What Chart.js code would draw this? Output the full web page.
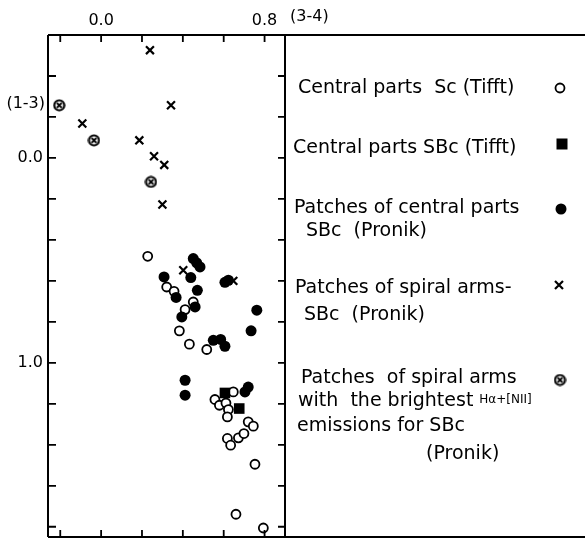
<!DOCTYPE html>
<html>
<head>
<meta charset="utf-8">
<title>Colour-colour diagram</title>
<script src="https://cdn.jsdelivr.net/npm/chart.js@4.4.0/dist/chart.umd.min.js"></script>
<style>
  html, body { margin: 0; padding: 0; background: #fff; }
  #wrap { width: 585px; height: 540px; }
</style>
</head>
<body>
<div id="wrap"><canvas id="chart" width="585" height="540" style="width:585px;height:540px"></canvas></div>
<script>
// Axis ticks
const xTickValues = [-0.2, 0.0, 0.2, 0.4, 0.6, 0.8];
const xTickLabels = ['', '0.0', '', '', '', '0.8'];
const yTickValues = [-0.4, -0.2, 0.0, 0.2, 0.4, 0.6, 0.8, 1.0, 1.2, 1.4, 1.6, 1.8];
const yTickLabels = ['', '', '0.0', '', '', '', '', '1.0', '', '', '', ''];

// Central parts Sc (Tifft) - open circles
const scTifftX = [0.228, 0.321, 0.357, 0.451, 0.411, 0.383, 0.432, 0.517, 0.647, 0.557, 0.579, 0.611,
  0.623, 0.618, 0.720, 0.745, 0.618, 0.634, 0.672, 0.699, 0.753, 0.660, 0.794];
const scTifftY = [0.480, 0.630, 0.651, 0.703, 0.740, 0.844, 0.909, 0.935, 1.142, 1.179, 1.207, 1.196,
  1.228, 1.264, 1.288, 1.309, 1.369, 1.402, 1.366, 1.345, 1.495, 1.739, 1.806];

// Central parts SBc (Tifft) - filled squares
const sbcTifftX = [0.606, 0.676];
const sbcTifftY = [1.147, 1.223];

// Patches of central parts SBc (Pronik) - filled circles
const centralPronikX = [0.451, 0.468, 0.484, 0.439, 0.308, 0.367, 0.471, 0.606, 0.623, 0.460,
  0.395, 0.762, 0.734, 0.549, 0.585, 0.606, 0.411, 0.411, 0.720, 0.704];
const centralPronikY = [0.491, 0.512, 0.532, 0.584, 0.581, 0.681, 0.646, 0.607, 0.597, 0.727,
  0.776, 0.743, 0.844, 0.890, 0.886, 0.919, 1.085, 1.158, 1.118, 1.142];

// Patches of spiral arms SBc (Pronik) - crosses
const armsPronikX = [0.239, 0.342, -0.092, 0.187, 0.259, 0.309, 0.300, 0.402, 0.647];
const armsPronikY = [-0.526, -0.257, -0.168, -0.086, -0.008, 0.034, 0.227, 0.548, 0.600];

// Brightest H-alpha + [NII] patches (Pronik) - circled crosses
const brightPronikX = [-0.205, -0.035, 0.244];
const brightPronikY = [-0.257, -0.086, 0.117];

const ink = '#000';
const font = '"DejaVu Sans", sans-serif';

function pairs(xs, ys) {
  return xs.map((x, i) => ({ x: x, y: ys[i] }));
}

// circle with a cross inside, used as an image point style
function makeCircledCross() {
  const c = document.createElement('canvas');
  c.width = 13; c.height = 13;
  const g = c.getContext('2d');
  g.strokeStyle = '#000';
  g.lineWidth = 2.2;
  g.beginPath();
  g.arc(6.5, 6.5, 5, 0, Math.PI * 2);
  g.stroke();
  g.lineWidth = 1.8;
  g.beginPath();
  g.moveTo(4, 4); g.lineTo(9, 9);
  g.moveTo(9, 4); g.lineTo(4, 9);
  g.stroke();
  return c;
}
const circledCross = makeCircledCross();

// Legend on the right-hand panel
const legendItems = [
  { lines: [['Central parts  Sc (Tifft)', 298, 88]], marker: 'open', mx: 560, my: 88 },
  { lines: [['Central parts SBc (Tifft)', 293, 148]], marker: 'square', mx: 562, my: 144 },
  { lines: [['Patches of central parts', 294, 208], ['SBc  (Pronik)', 306, 231]], marker: 'filled', mx: 561, my: 209 },
  { lines: [['Patches of spiral arms-', 295, 288], ['SBc  (Pronik)', 304, 315]], marker: 'cross', mx: 559, my: 285 },
  { lines: [['Patches  of spiral arms', 301, 378], ['with  the brightest', 298, 401],
            ['emissions for SBc', 297, 426], ['(Pronik)', 426, 454]], marker: 'bright', mx: 560, my: 380 }
];

function drawMarker(ctx, type, x, y) {
  ctx.save();
  ctx.strokeStyle = ink;
  ctx.fillStyle = ink;
  if (type === 'open') {
    ctx.lineWidth = 1.8;
    ctx.beginPath(); ctx.arc(x, y, 4.5, 0, Math.PI * 2); ctx.stroke();
  } else if (type === 'filled') {
    ctx.beginPath(); ctx.arc(x, y, 5.5, 0, Math.PI * 2); ctx.fill();
  } else if (type === 'square') {
    ctx.fillRect(x - 5.5, y - 5.5, 11, 11);
  } else if (type === 'cross') {
    ctx.lineWidth = 2.2;
    ctx.beginPath();
    ctx.moveTo(x - 4, y - 4); ctx.lineTo(x + 4, y + 4);
    ctx.moveTo(x + 4, y - 4); ctx.lineTo(x - 4, y + 4);
    ctx.stroke();
  } else if (type === 'bright') {
    ctx.drawImage(circledCross, x - 6.5, y - 6.5);
  }
  ctx.restore();
}

const framePlugin = {
  id: 'frame',
  afterDraw(chart) {
    const { ctx, chartArea: a } = chart;
    const xs = chart.scales.x;
    const ys = chart.scales.y;
    ctx.save();
    ctx.strokeStyle = ink;
    ctx.lineWidth = 2;
    ctx.beginPath();
    ctx.moveTo(a.left, a.top); ctx.lineTo(chart.width, a.top);
    ctx.moveTo(a.left, a.bottom); ctx.lineTo(chart.width, a.bottom);
    ctx.moveTo(a.left, a.top); ctx.lineTo(a.left, a.bottom);
    ctx.moveTo(a.right, a.top); ctx.lineTo(a.right, a.bottom);
    ctx.stroke();

    // ticks pointing inwards on all four sides
    ctx.lineWidth = 1.8;
    ctx.beginPath();
    xTickValues.forEach(v => {
      const px = xs.getPixelForValue(v);
      ctx.moveTo(px, a.top); ctx.lineTo(px, a.top + 7);
      ctx.moveTo(px, a.bottom); ctx.lineTo(px, a.bottom - 7);
    });
    yTickValues.forEach(v => {
      const py = ys.getPixelForValue(v);
      ctx.moveTo(a.left, py); ctx.lineTo(a.left + 8, py);
      ctx.moveTo(a.right, py); ctx.lineTo(a.right - 7, py);
    });
    ctx.stroke();

    // axis names
    ctx.fillStyle = ink;
    ctx.font = '16px ' + font;
    ctx.textBaseline = 'middle';
    ctx.textAlign = 'right';
    ctx.fillText('(1-3)', a.left - 3, 104);
    ctx.textAlign = 'left';
    ctx.fillText('(3-4)', a.right + 5, 17);

    // legend
    legendItems.forEach(item => {
      item.lines.forEach(([text, lx, ly]) => {
        ctx.font = '19px ' + font;
        ctx.fillText(text, lx, ly);
        if (text.startsWith('with')) {
          const w = ctx.measureText(text).width;
          ctx.font = '12px ' + font;
          ctx.fillText('Hα+[NII]', lx + w + 6, ly - 1);
        }
      });
      drawMarker(ctx, item.marker, item.mx, item.my);
    });
    ctx.restore();
  }
};

const ctx = document.getElementById('chart').getContext('2d');
new Chart(ctx, {
  type: 'scatter',
  data: {
    datasets: [
      {
        label: 'Patches of central parts SBc (Pronik)',
        data: pairs(centralPronikX, centralPronikY),
        pointStyle: 'circle', pointRadius: 5.5, pointBackgroundColor: ink, pointBorderColor: ink, pointBorderWidth: 0
      },
      {
        label: 'Central parts SBc (Tifft)',
        data: pairs(sbcTifftX, sbcTifftY),
        pointStyle: 'rect', pointRadius: 7.5, pointBackgroundColor: ink, pointBorderColor: ink, pointBorderWidth: 0
      },
      {
        label: 'Central parts Sc (Tifft)',
        data: pairs(scTifftX, scTifftY),
        pointStyle: 'circle', pointRadius: 4.5, pointBackgroundColor: '#fff', pointBorderColor: ink, pointBorderWidth: 1.8
      },
      {
        label: 'Patches of spiral arms SBc (Pronik)',
        data: pairs(armsPronikX, armsPronikY),
        pointStyle: 'crossRot', pointRadius: 5.6, pointBorderColor: ink, pointBorderWidth: 2.2
      },
      {
        label: 'Patches of spiral arms with the brightest emissions (Pronik)',
        data: pairs(brightPronikX, brightPronikY),
        pointStyle: circledCross, pointRadius: 6.5
      }
    ]
  },
  options: {
    responsive: false,
    animation: false,
    devicePixelRatio: 1,
    layout: { autoPadding: false, padding: { left: 0, top: 0, right: 300, bottom: 3 } },
    plugins: {
      legend: { display: false },
      tooltip: { enabled: false }
    },
    scales: {
      x: {
        type: 'linear',
        position: 'top',
        min: -0.26,
        max: 0.9,
        grid: { display: false, drawTicks: false },
        border: { display: false },
        afterBuildTicks: s => { s.ticks = xTickValues.map(v => ({ value: v })); },
        afterFit: s => { s.height = 35; s.paddingLeft = 0; s.paddingRight = 0; },
        ticks: {
          padding: 5,
          color: ink,
          font: { family: font, size: 16 },
          maxRotation: 0,
          autoSkip: false,
          callback: v => xTickLabels[xTickValues.findIndex(t => Math.abs(t - v) < 1e-6)] || ''
        }
      },
      y: {
        type: 'linear',
        position: 'left',
        reverse: true,
        min: -0.6,
        max: 1.85,
        grid: { display: false, drawTicks: false },
        border: { display: false },
        afterBuildTicks: s => { s.ticks = yTickValues.map(v => ({ value: v })); },
        afterFit: s => { s.width = 48; s.paddingTop = 0; s.paddingBottom = 0; },
        ticks: {
          padding: 5,
          color: ink,
          font: { family: font, size: 16 },
          autoSkip: false,
          callback: v => yTickLabels[yTickValues.findIndex(t => Math.abs(t - v) < 1e-6)] || ''
        }
      }
    }
  },
  plugins: [framePlugin]
});
</script>
</body>
</html>
